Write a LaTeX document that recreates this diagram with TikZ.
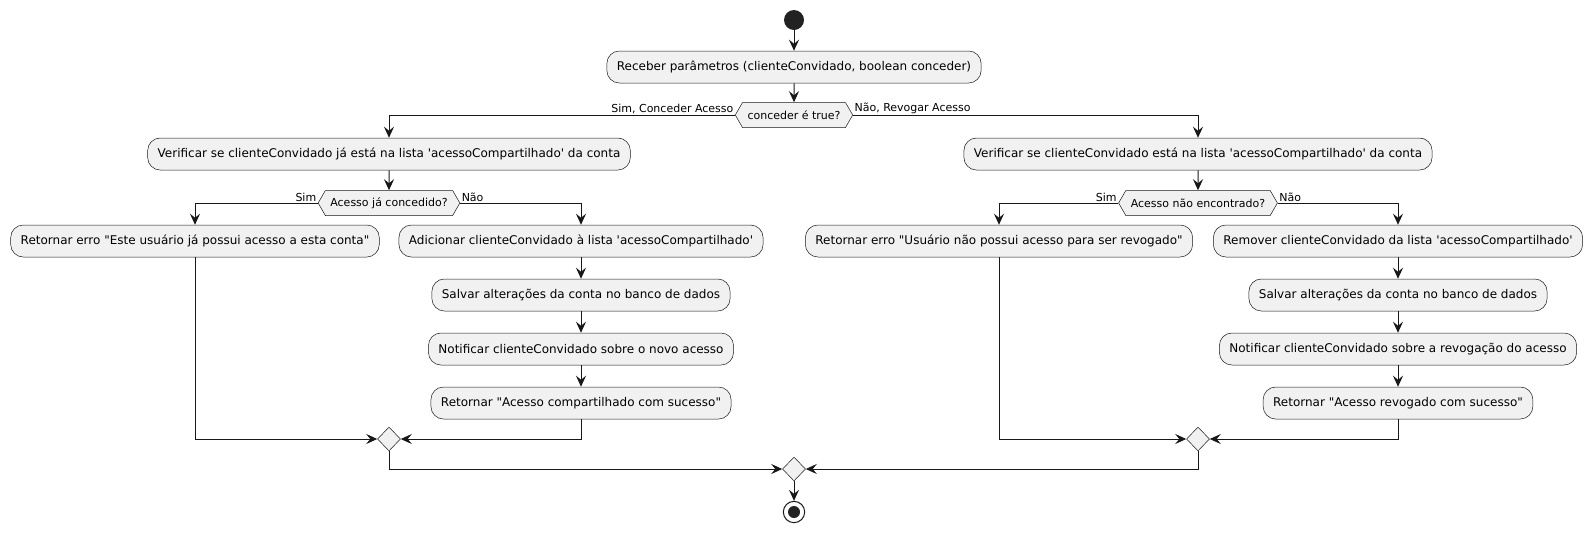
\documentclass[tikz,border=0pt]{standalone}
\usepackage{fontspec}
\newfontfamily\umlfont{DejaVu Sans}
\usetikzlibrary{arrows.meta}
\usetikzlibrary{shapes.geometric}
\usetikzlibrary{shapes.symbols}
\definecolor{umlline}{RGB}{24,24,24}
\definecolor{umlfill}{RGB}{241,241,241}
\definecolor{umldot}{RGB}{34,34,34}
\tikzset{
  box/.style={draw=umlline, fill=umlfill, line width=0.375pt, rounded corners=9.4pt,
    minimum height=24pt, inner xsep=7.5pt, font=\umlfont\fontsize{9}{11}\selectfont},
  decision/.style={draw=umlline, fill=umlfill, line width=0.375pt, signal,
    signal to=west and east, signal pointer angle=120, minimum height=18.75pt,
    inner xsep=3.75pt, inner ysep=2pt, font=\umlfont\fontsize{8.25}{10}\selectfont},
  merge/.style={draw=umlline, fill=umlfill, line width=0.375pt, diamond, inner sep=0pt,
    minimum width=17.25pt, minimum height=18pt},
  startdot/.style={circle, fill=umldot, inner sep=0pt, minimum size=15pt},
  stopring/.style={circle, draw=umlline, line width=0.75pt, inner sep=0pt, minimum size=16pt},
  flow/.style={draw=umlline, line width=0.75pt, -{Stealth[length=8.25pt,width=7.5pt,inset=3pt]}},
  lbl/.style={inner sep=1pt, font=\umlfont\fontsize{8.25}{10}\selectfont}
}
\begin{document}
\begin{tikzpicture}[x=0.75pt,y=0.75pt,yscale=-1,xscale=1]
\useasboundingbox (0,0) rectangle (1593,533);

%Start
\node [startdot] (start) at (794,20) {};
\node [box] (recv) at (794,67) {Receber parâmetros (clienteConvidado, boolean conceder)};
\node [decision] (dec1) at (794,115) {conceder é true?};

%Branch: conceder
\node [box] (verL) at (389,154) {Verificar se clienteConvidado já está na lista 'acessoCompartilhado' da conta};
\node [decision] (decL) at (389,203) {Acesso já concedido?};
\node [box] (errL) at (195,241) {Retornar erro "Este usuário já possui acesso a esta conta"};
\node [box] (addL) at (581,241) {Adicionar clienteConvidado à lista 'acessoCompartilhado'};
\node [box] (saveL) at (581,295) {Salvar alterações da conta no banco de dados};
\node [box] (notL) at (581,349) {Notificar clienteConvidado sobre o novo acesso};
\node [box] (retL) at (581,403) {Retornar "Acesso compartilhado com sucesso"};
\node [merge] (mergeL) at (389,439) {};

%Branch: revogar
\node [box] (verR) at (1198,154) {Verificar se clienteConvidado está na lista 'acessoCompartilhado' da conta};
\node [decision] (decR) at (1198,203) {Acesso não encontrado?};
\node [box] (errR) at (999,241) {Retornar erro "Usuário não possui acesso para ser revogado"};
\node [box] (remR) at (1398,241) {Remover clienteConvidado da lista 'acessoCompartilhado'};
\node [box] (saveR) at (1398,295) {Salvar alterações da conta no banco de dados};
\node [box] (notR) at (1398,349) {Notificar clienteConvidado sobre a revogação do acesso};
\node [box] (retR) at (1398,403) {Retornar "Acesso revogado com sucesso"};
\node [merge] (mergeR) at (1198,439) {};

%End
\node [merge] (mergeEnd) at (794,469) {};
\node [stopring] (stop) at (794,512) {};
\fill [umldot] (stop.center) circle (4.5pt);

%Connectors
\draw [flow] (start) -- (recv);
\draw [flow] (recv) -- (dec1);
\draw [flow] (dec1.west) -| (verL);
\draw [flow] (dec1.east) -| (verR);
\draw [flow] (verL) -- (decL);
\draw [flow] (decL.west) -| (errL);
\draw [flow] (decL.east) -| (addL);
\draw [flow] (addL) -- (saveL);
\draw [flow] (saveL) -- (notL);
\draw [flow] (notL) -- (retL);
\draw [flow] (errL.south) |- (mergeL.west);
\draw [flow] (retL.south) |- (mergeL.east);
\draw [flow] (verR) -- (decR);
\draw [flow] (decR.west) -| (errR);
\draw [flow] (decR.east) -| (remR);
\draw [flow] (remR) -- (saveR);
\draw [flow] (saveR) -- (notR);
\draw [flow] (notR) -- (retR);
\draw [flow] (errR.south) |- (mergeR.west);
\draw [flow] (retR.south) |- (mergeR.east);
\draw [flow] (mergeL.south) |- (mergeEnd.west);
\draw [flow] (mergeR.south) |- (mergeEnd.east);
\draw [flow] (mergeEnd) -- (stop);

% Text Node
\node [lbl, anchor=south east] at (dec1.west) {Sim, Conceder Acesso};
\node [lbl, anchor=south west] at (dec1.east) {Não, Revogar Acesso};
\node [lbl, anchor=south east] at (decL.west) {Sim};
\node [lbl, anchor=south west] at (decL.east) {Não};
\node [lbl, anchor=south east] at (decR.west) {Sim};
\node [lbl, anchor=south west] at (decR.east) {Não};

\end{tikzpicture}
\end{document}
